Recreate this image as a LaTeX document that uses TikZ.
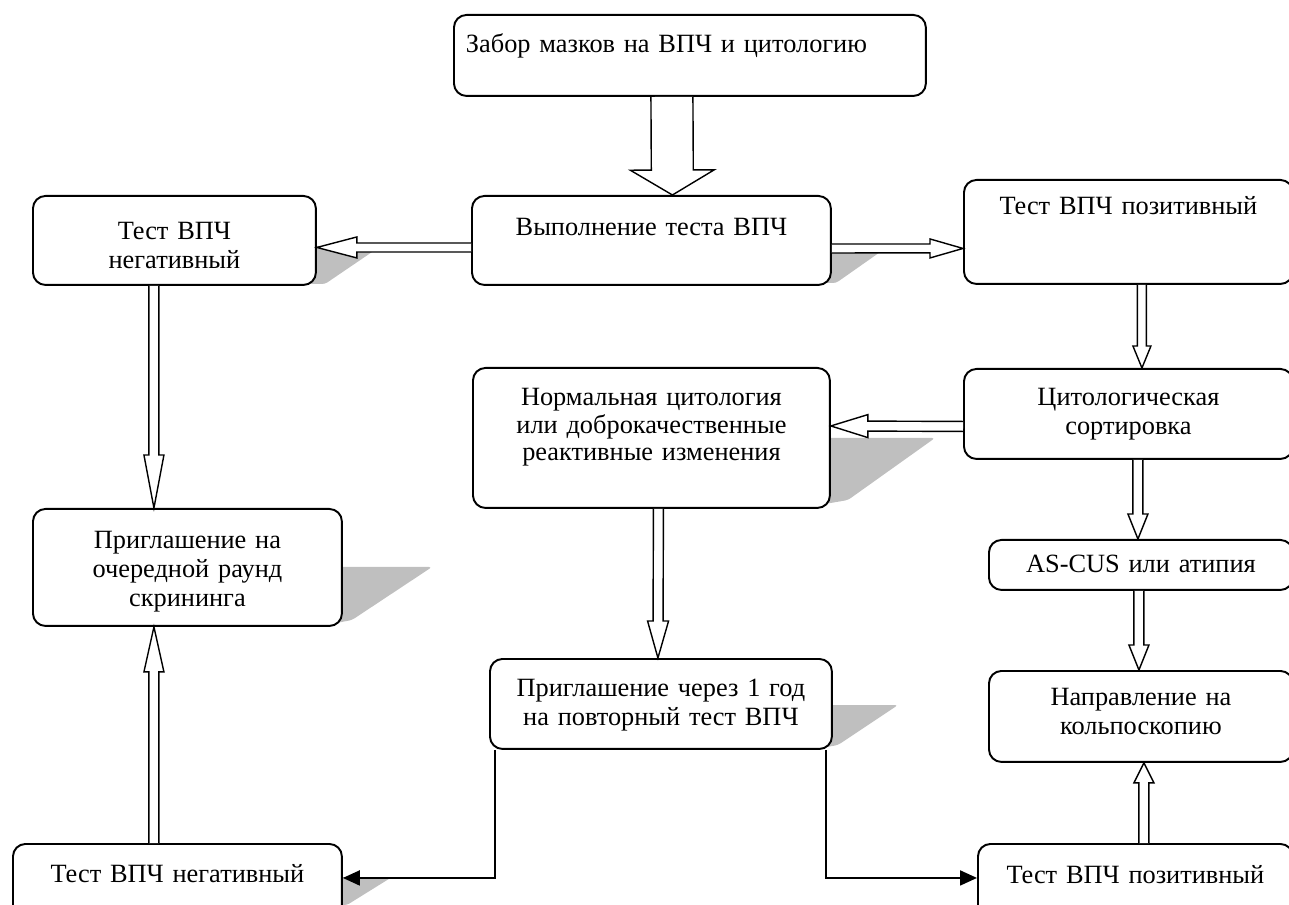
\documentclass[tikz,border=0pt]{standalone}
\usepackage{fontspec}
\setmainfont{Liberation Serif}
\usetikzlibrary{calc, arrows.meta}

\tikzset{
  box/.style={draw, line width=1.1pt, rounded corners=0.25cm, fill=white, anchor=north west,
    inner xsep=0.2cm, inner ysep=0pt, align=center, font=\fontsize{15}{16.5}\selectfont},
  hollow/.style={draw, line width=0.8pt, fill=white, line join=miter},
  link/.style={draw, line width=1.1pt, -{Triangle[length=0.34cm, width=0.3cm]}},
  shade/.style={fill=black!25, rounded corners=0.06cm}
}

% double-line arrow: start, end, shaft half width, head half width, head length
\newcommand{\hollowarrow}[5]{%
  \coordinate (ha) at (#1);
  \coordinate (he) at (#2);
  \coordinate (hb) at ($(he)!#5!(ha)$);
  \draw[hollow] ($(ha)!#3!90:(he)$) -- ($(hb)!#3!-90:(ha)$) -- ($(hb)!#4!-90:(ha)$) -- (he)
    -- ($(hb)!#4!90:(ha)$) -- ($(hb)!#3!90:(ha)$) -- ($(ha)!#3!-90:(he)$);
}

\begin{document}
\begin{tikzpicture}[x=0.02cm, y=-0.02cm]
	\useasboundingbox (0,0) rectangle (1289,905);
	% shadows
	\fill[shade] (305,245) -- (375,250) -- (325,284) -- (305,284) -- cycle;
	\fill[shade] (820,250) -- (883,250) -- (836,283) -- (820,283) -- cycle;
	\fill[shade] (819,438) -- (935,438) -- (848,500) -- (819,505) -- cycle;
	\fill[shade] (331,567) -- (432,567) -- (352,620) -- (331,624) -- cycle;
	\fill[shade] (821,705) -- (898,705) -- (838,745) -- (821,748) -- cycle;
	\fill[shade] (331,877) -- (392,877) -- (347,905) -- (331,905) -- cycle;

	% boxes
	\node[box, align=left, inner xsep=0.24cm, text width=8.96cm, text height=0.76cm, text depth=0.86cm] (zabor) at (453,14) {Забор мазков на ВПЧ и цитологию};
	\node[box, text width=6.78cm, text height=0.80cm, text depth=0.98cm] (vyp) at (471,195) {Выполнение теста ВПЧ};
	\node[box, text width=5.26cm, text height=0.88cm, text depth=0.90cm] (neg1) at (32,195) {Тест ВПЧ\\негативный};
	\node[box, text width=6.18cm, text height=0.70cm, text depth=1.38cm] (pos1) at (963,179) {Тест ВПЧ позитивный};
	\node[box, text width=6.18cm, text height=0.74cm, text depth=1.06cm] (cyt) at (963,368) {Цитологическая\\сортировка};
	\node[box, text width=6.74cm, text height=0.76cm, text depth=2.04cm] (norm) at (472,367) {Нормальная цитология\\[-1pt]или доброкачественные\\[-1pt]реактивные изменения};
	\node[box, text width=5.78cm, text height=0.80cm, text depth=1.54cm] (priglR) at (32,508) {Приглашение на\\очередной раунд\\скрининга};
	\node[box, text width=5.68cm, text height=0.66cm, text depth=0.34cm] (ascus) at (988,539) {AS-CUS или атипия};
	\node[box, text width=6.44cm, text height=0.76cm, text depth=1.04cm] (prigl1) at (489,658) {Приглашение через 1 год\\на повторный тест ВПЧ};
	\node[box, text width=5.68cm, text height=0.70cm, text depth=1.12cm] (napr) at (988,670) {Направление на\\кольпоскопию};
	\node[box, text width=6.18cm, text height=0.78cm, text depth=1.06cm] (neg2) at (12,843) {Тест ВПЧ негативный};
	\node[box, text width=5.9cm, text height=0.80cm, text depth=1.04cm] (pos2) at (977,843) {Тест ВПЧ позитивный};

	% double arrows
	\hollowarrow{$(zabor.south)+(-18,0)$}{$(vyp.north)+(21,0)$}{0.42cm}{0.84cm}{0.5cm}
	\hollowarrow{$(vyp.west)+(0,7)$}{$(neg1.east)+(0,7)$}{0.09cm}{0.21cm}{0.8cm}
	\hollowarrow{$(vyp.east)+(0,8)$}{$(pos1.west)+(0,16.5)$}{0.09cm}{0.19cm}{0.66cm}
	\hollowarrow{$(pos1.south)+(13.5,0)$}{$(cyt.north)+(13.5,0)$}{0.09cm}{0.18cm}{0.44cm}
	\hollowarrow{$(cyt.west)+(0,12.5)$}{$(norm.east)+(0,-12)$}{0.1cm}{0.23cm}{0.74cm}
	\hollowarrow{$(neg1.south)+(-20.5,0)$}{$(priglR.north)+(-33.5,0)$}{0.1cm}{0.2cm}{1.06cm}
	\hollowarrow{$(norm.south)+(7,0)$}{$(prigl1.north)+(-3,0)$}{0.1cm}{0.21cm}{0.74cm}
	\hollowarrow{$(neg2.north)+(-23.5,0)$}{$(priglR.south)+(-33.5,0)$}{0.1cm}{0.2cm}{0.9cm}
	\hollowarrow{$(cyt.south)+(9.5,0)$}{$(ascus.north)+(-3,0)$}{0.1cm}{0.2cm}{0.5cm}
	\hollowarrow{$(ascus.south)+(-2,0)$}{$(napr.north)+(-2,0)$}{0.1cm}{0.2cm}{0.5cm}
	\hollowarrow{$(pos2.north)+(8.5,0)$}{$(napr.south)+(3,0)$}{0.1cm}{0.2cm}{0.4cm}

	% result lines
	\draw[link] ($(prigl1.south west)+(6,0)$) |- ($(neg2.east)+(0,-12)$);
	\draw[link] ($(prigl1.south east)+(-7,0)$) |- ($(pos2.west)+(0,-12)$);
\end{tikzpicture}
\end{document}
